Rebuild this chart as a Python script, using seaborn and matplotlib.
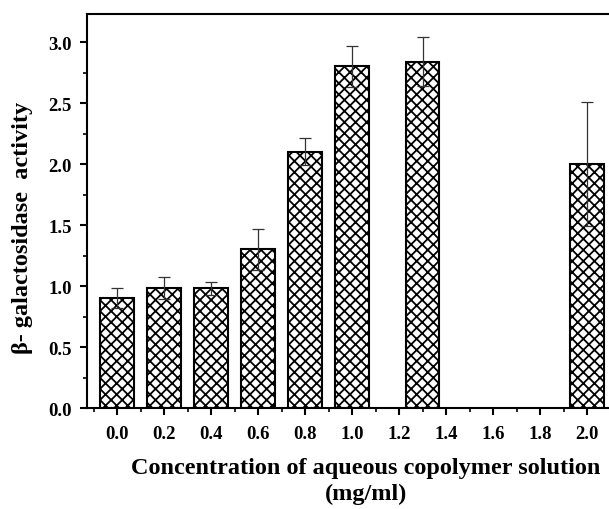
import matplotlib
matplotlib.use("Agg")
import matplotlib.pyplot as plt
import seaborn as sns
import numpy as np
import pandas as pd
from matplotlib.ticker import MultipleLocator

concentration = [0.0, 0.2, 0.4, 0.6, 0.8, 1.0, 1.3, 2.0]
activity = [0.90, 0.98, 0.98, 1.30, 2.10, 2.80, 2.84, 2.00]
error = [0.08, 0.09, 0.05, 0.17, 0.11, 0.17, 0.20, 0.51]
x_ticks = [0.0, 0.2, 0.4, 0.6, 0.8, 1.0, 1.2, 1.4, 1.6, 1.8, 2.0]
y_ticks = [0.0, 0.5, 1.0, 1.5, 2.0, 2.5, 3.0]

sns.set_style("ticks")
plt.rcParams['font.family'] = ['Liberation Serif', 'DejaVu Serif']
plt.rcParams['hatch.linewidth'] = 1.3
plt.rcParams['text.color'] = 'black'
plt.rcParams['axes.labelcolor'] = 'black'
plt.rcParams['xtick.color'] = 'black'
plt.rcParams['ytick.color'] = 'black'

df = pd.DataFrame({"conc": concentration, "act": activity, "err": error})

fig = plt.figure(figsize=(6.09, 5.10), dpi=100)
ax = fig.add_axes([87/609, 1 - 409/510, 524/609, (409 - 15)/510])

sns.barplot(data=df, x="conc", y="act", native_scale=True, width=0.72,
            color="white", edgecolor="black", linewidth=1.5,
            errorbar=None, ax=ax, zorder=2)
for p in ax.patches:
    p.set_hatch("xxx")
    p.set_facecolor("white")
    p.set_edgecolor("black")

ax.errorbar(df["conc"], df["act"], yerr=df["err"], fmt="none",
            ecolor="#333333", elinewidth=0.9, capsize=4, capthick=0.9, zorder=3)

ax.set_xlim(-0.128, 2.102)
ax.set_ylim(0, 3.23)
ax.set_xticks(x_ticks)
ax.set_xticklabels([f"{v:.1f}" for v in x_ticks])
ax.set_yticks(y_ticks)
ax.set_yticklabels([f"{v:.1f}" for v in y_ticks])
ax.xaxis.set_minor_locator(MultipleLocator(0.1))
ax.yaxis.set_minor_locator(MultipleLocator(0.25))
ax.tick_params(axis="both", which="major", direction="out", length=5, width=1.5,
               labelsize=13.5, colors="black")
ax.tick_params(axis="both", which="minor", direction="out", length=3, width=1.2,
               colors="black")
for lab in ax.get_xticklabels() + ax.get_yticklabels():
    lab.set_fontweight("bold")
ax.tick_params(axis="x", pad=7)
ax.tick_params(axis="y", pad=6)

for s in ax.spines.values():
    s.set_linewidth(1.5)
    s.set_color("black")
ax.spines["right"].set_visible(False)

ax.set_xlabel("Concentration of aqueous copolymer solution\n(mg/ml)",
              fontsize=17.5, fontweight="bold", linespacing=1.3, color="black")
ax.xaxis.set_label_coords(0.532, -0.125, transform=ax.transAxes)
ax.xaxis.label.set_va("top")
ax.set_ylabel("β- galactosidase  activity", fontsize=17.5, fontweight="bold",
              color="black")
ax.yaxis.set_label_coords(-0.104, 0.46)

fig.savefig("out.png", dpi=100)
